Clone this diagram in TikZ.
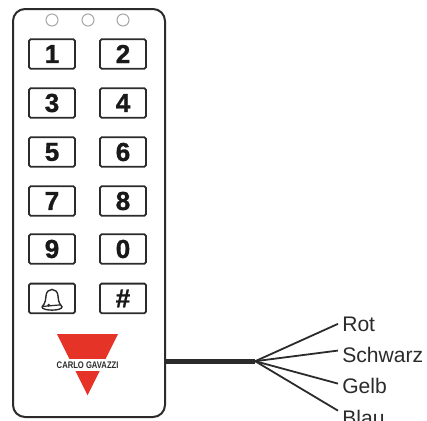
\documentclass[tikz,border=0pt]{standalone}
\usepackage{fontspec}
\setmainfont{Liberation Sans}
\newfontfamily\keyfont[BoldFeatures={FakeBold=1.2}]{Liberation Sans}
\usetikzlibrary{positioning}
\definecolor{logored}{HTML}{E53427}
\definecolor{inkgray}{HTML}{2B2B2B}
\tikzset{
    keybox/.style={draw=inkgray, line width=0.045cm, rounded corners=0.04cm, minimum width=1.15cm, minimum height=0.74cm, inner sep=0pt, font=\fontsize{18.5}{18.5}\selectfont\keyfont\bfseries, text=black!90},
    lamp/.style={draw=black!35, line width=0.025cm, circle, minimum size=0.3cm, inner sep=0pt},
    wirelabel/.style={anchor=base west, inner sep=0.1cm, font=\fontsize{15}{15}\selectfont, text=inkgray}
}
\begin{document}
\begin{tikzpicture}
\edef\r{0.3}
\useasboundingbox (0,0) rectangle (10.675,-10.5);
\clip (0,0) rectangle (10.675,-10.5);

% housing
\node [draw=inkgray, line width=0.05cm, rounded corners=\r cm, minimum width=3.8cm, minimum height=10.2cm, inner sep=0pt] (housing) at (2.225,-5.325) {};

% leds
\node [lamp] (led1) at (1.3,-0.5) {};
\node [lamp] (led2) at (2.2,-0.5) {};
\node [lamp] (led3) at (3.075,-0.5) {};

% keys
\node [keybox] (key1) at (1.3,-1.35) {1};
\node [keybox] (key2) at (3.075,-1.35) {2};
\node [keybox] (key3) at (1.3,-2.575) {3};
\node [keybox] (key4) at (3.075,-2.575) {4};
\node [keybox] (key5) at (1.3,-3.8) {5};
\node [keybox] (key6) at (3.075,-3.8) {6};
\node [keybox] (key7) at (1.3,-5.025) {7};
\node [keybox] (key8) at (3.075,-5.025) {8};
\node [keybox] (key9) at (1.3,-6.225) {9};
\node [keybox] (key0) at (3.075,-6.225) {0};
\node [keybox] (keybell) at (1.3,-7.46) {};
\node [keybox] (keyhash) at (3.075,-7.46) {\#};

% bell
\draw [inkgray, line width=0.035cm, fill=white] (1.05,-7.67) .. controls (1.14,-7.58) and (1.14,-7.48) .. (1.15,-7.4) .. controls (1.16,-7.18) and (1.44,-7.18) .. (1.45,-7.4) .. controls (1.46,-7.48) and (1.46,-7.58) .. (1.55,-7.67) .. controls (1.56,-7.78) and (1.04,-7.78) .. (1.05,-7.67);
\draw [inkgray, line width=0.03cm] (1.07,-7.66) -- (1.53,-7.62);
\fill [inkgray] (1.22,-7.63) circle (0.04);

% logo
\fill [logored] (1.425,-8.35) -- (2.95,-8.35) -- (2.19,-9.88) -- cycle;
\node [fill=white, inner sep=0pt, minimum width=1.6cm, minimum height=0.3cm, font=\fontsize{6.8}{6.8}\selectfont\bfseries, text=inkgray] (logotext) at (2.19,-9.125) {\pgfinterruptpicture\scalebox{0.8}[1]{CARLO GAVAZZI}\endpgfinterruptpicture};

% wires
\node [wirelabel] (rot) at (8.45,-8.275) {Rot};
\node [wirelabel] (schwarz) at (8.45,-9.05) {Schwarz};
\node [wirelabel] (gelb) at (8.45,-9.825) {Gelb};
\node [wirelabel] (blau) at (8.45,-10.625) {Blau};
\coordinate (cablein) at (housing.east |- 0,-9.03);
\coordinate (hub) at (6.38,-9.03);

\draw [inkgray, line width=0.12cm] (cablein) -- (hub);
\draw [inkgray, line width=0.045cm] (hub) -- (rot.west);
\draw [inkgray, line width=0.045cm] (hub) -- (schwarz.175);
\draw [inkgray, line width=0.045cm] (hub) -- (gelb.176);
\draw [inkgray, line width=0.045cm] (hub) -- (blau.165);
\end{tikzpicture}
\end{document}
